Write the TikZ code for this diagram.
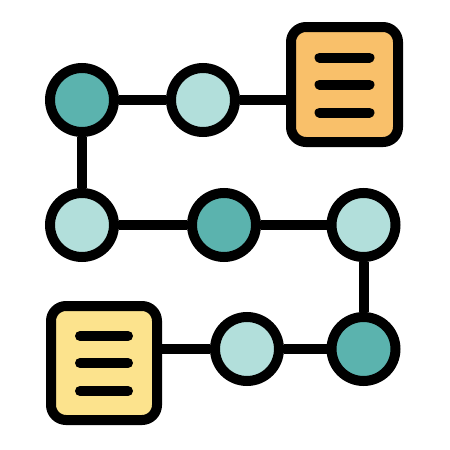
\documentclass[tikz,border=0pt]{standalone}
\usetikzlibrary{backgrounds,calc}
\definecolor{tealdark}{HTML}{5BB3AE}
\definecolor{teallight}{HTML}{B2DFDB}
\definecolor{boxorange}{HTML}{F9C06A}
\definecolor{boxyellow}{HTML}{FCE38D}
\tikzset{
  dot/.style={circle, draw=black, line width=10pt, minimum size=64pt, inner sep=0pt},
  darkdot/.style={dot, fill=tealdark},
  lightdot/.style={dot, fill=teallight},
  docbox/.style={rectangle, draw=black, line width=10pt, rounded corners=15pt, inner sep=0pt},
  link/.style={draw=black, line width=10pt},
  textline/.style={draw=black, line width=10pt, line cap=round}
}
\begin{document}
\begin{tikzpicture}[x=1pt,y=-1pt]
\useasboundingbox (0,0) rectangle (450,450);
\node[darkdot] (a1) at (82,100) {};
\node[lightdot] (a2) at (203,100) {};
\node[docbox, fill=boxorange, minimum width=107pt, minimum height=115pt] (o) at (344.5,84.5) {};
\node[lightdot] (b1) at (82,225) {};
\node[darkdot] (b2) at (224,225) {};
\node[lightdot] (b3) at (363.5,225) {};
\node[docbox, fill=boxyellow, minimum width=106pt, minimum height=114pt] (y) at (104,363) {};
\node[lightdot] (c2) at (247,349) {};
\node[darkdot] (c3) at (363.5,349) {};
\foreach \dy in {-27,0,28} {
  \draw[textline] ($(o)+(-25,\dy)$) -- ($(o)+(25,\dy)$);
  \draw[textline] ($(y)+(-24,\dy)$) -- ($(y)+(24,\dy)$);
}
\begin{scope}[on background layer]
  \draw[link] (a1) -- (a2);
  \draw[link] (a2) -- (a2 -| o.west);
  \draw[link] (a1) -- (b1);
  \draw[link] (b1) -- (b2) -- (b3);
  \draw[link] (b3) -- (c3);
  \draw[link] (c3) -- (c2);
  \draw[link] (c2) -- (c2 -| y.east);
\end{scope}
\end{tikzpicture}
\end{document}
